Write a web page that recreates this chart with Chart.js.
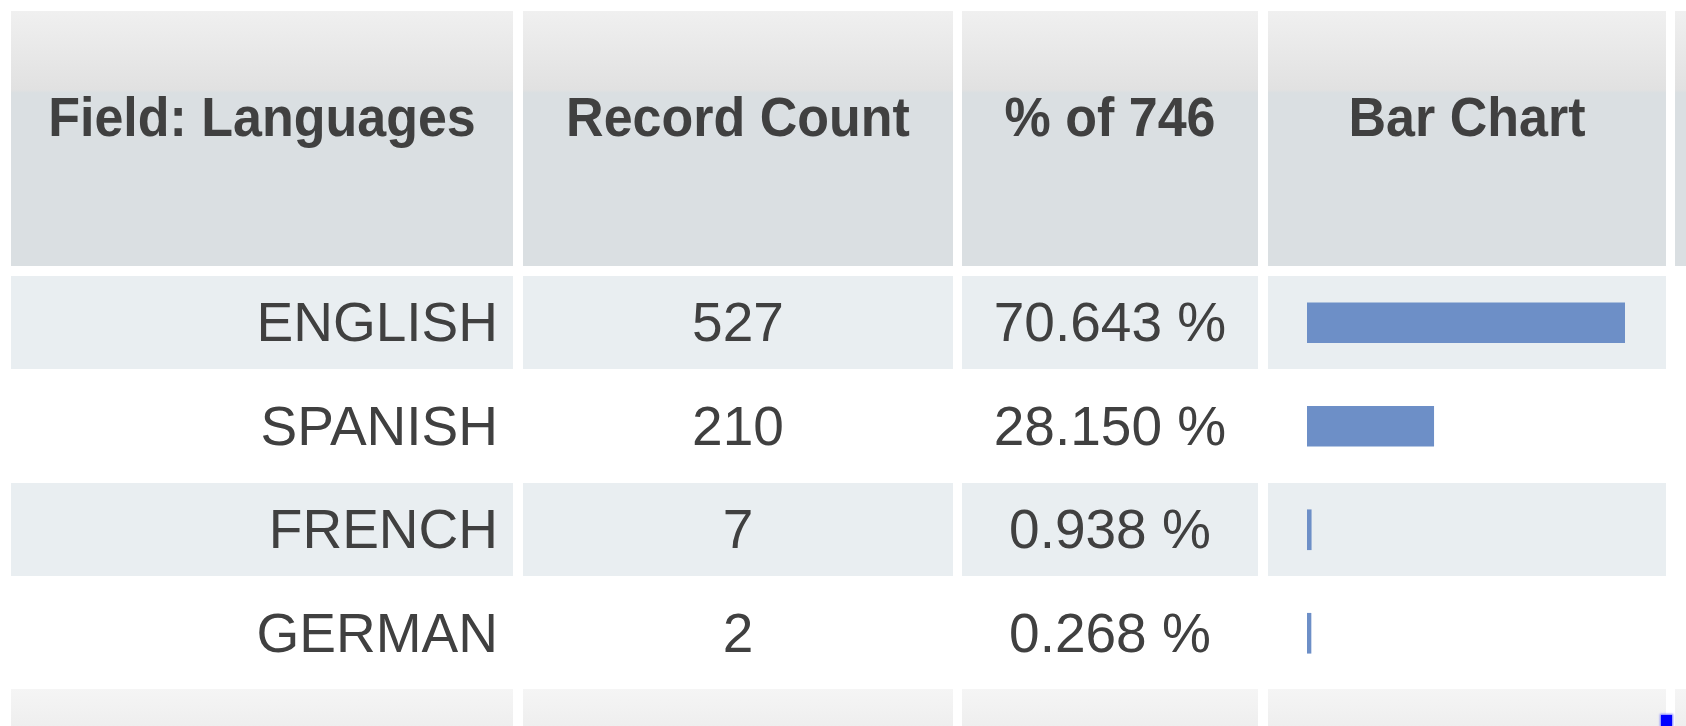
<!DOCTYPE html>
<html>
<head>
<meta charset="utf-8">
<script src="https://cdn.jsdelivr.net/npm/chart.js@4"></script>
<style>
  html, body { margin: 0; padding: 0; background: #ffffff; }
  body { width: 1686px; height: 726px; position: relative; overflow: hidden;
         font-family: "Liberation Sans", Arial, sans-serif; color: #404040; }
  .cell { position: absolute; box-sizing: border-box; white-space: nowrap; }
  .head { background: linear-gradient(#f0f0f0 0%, #e1e1e1 31%, #dadfe2 32%, #dadfe2 100%); }
  .head span { position: absolute; left: 0; right: 0; top: 80px; text-align: center;
               font-weight: bold; font-size: 52px; line-height: 52px;
               transform: scaleY(1.05); }
  .alt { background: #e9eef1; }
  .foot { background: linear-gradient(#f5f5f5, #ececec); }
  .data { font-size: 55px; }
  #barWrap { position: absolute; left: 1307px; top: 271px; width: 318px; height: 414px; }
  #dot { position: absolute; left: 1661px; top: 715px; width: 11px; height: 11px;
         background: #0000ff; box-shadow: 0 0 2px 1px #7a7aff; }
</style>
</head>
<body>
<div id="barWrap"><canvas id="bars" width="318" height="414"></canvas></div>
<div id="dot"></div>
<script>
// table content
const headers = ["Field: Languages", "Record Count", "% of 746", "Bar Chart"];
const languages = ["ENGLISH", "SPANISH", "FRENCH", "GERMAN"];
const counts = [527, 210, 7, 2];
const percents = [70.643, 28.150, 0.938, 0.268];

// layout: column spans and row spans in page pixels
const cols = [[11, 513], [523, 953], [962, 1258], [1268, 1666], [1675, 1700]];
const headRow = [11, 266];
const rows = [[276, 369], [379, 473], [483, 576], [586, 680]];
const footRow = [689, 740];

function addCell(x0, x1, y0, y1, cls) {
  const d = document.createElement("div");
  d.className = "cell " + cls;
  d.style.left = x0 + "px";
  d.style.top = y0 + "px";
  d.style.width = (x1 - x0) + "px";
  d.style.height = (y1 - y0) + "px";
  document.body.insertBefore(d, document.getElementById("barWrap"));
  return d;
}

// header row
cols.forEach((c, i) => {
  const d = addCell(c[0], c[1], headRow[0], headRow[1], "head");
  if (headers[i]) {
    const s = document.createElement("span");
    s.textContent = headers[i];
    d.appendChild(s);
  }
});

// data rows
rows.forEach((r, i) => {
  const cls = i % 2 === 0 ? "alt" : "";
  const h = r[1] - r[0];
  const c1 = addCell(cols[0][0], cols[0][1], r[0], r[1], cls + " data");
  c1.style.textAlign = "right";
  c1.style.paddingRight = "15px";
  c1.style.lineHeight = h + "px";
  c1.textContent = languages[i];

  const c2 = addCell(cols[1][0], cols[1][1], r[0], r[1], cls + " data");
  c2.style.textAlign = "center";
  c2.style.lineHeight = h + "px";
  c2.textContent = counts[i];

  const c3 = addCell(cols[2][0], cols[2][1], r[0], r[1], cls + " data");
  c3.style.textAlign = "center";
  c3.style.lineHeight = h + "px";
  c3.textContent = percents[i].toFixed(3) + " %";

  addCell(cols[3][0], cols[3][1], r[0], r[1], cls);
});

// footer row
cols.forEach(c => addCell(c[0], c[1], footRow[0], footRow[1], "foot"));

// bar column
new Chart(document.getElementById("bars").getContext("2d"), {
  type: "bar",
  data: {
    labels: languages,
    datasets: [{
      data: counts,
      backgroundColor: "#6d8fc7",
      barThickness: 40,
      minBarLength: 4,
      borderWidth: 0
    }]
  },
  options: {
    indexAxis: "y",
    responsive: false,
    animation: false,
    layout: { padding: 0 },
    plugins: { legend: { display: false }, tooltip: { enabled: false } },
    scales: {
      x: { display: false, min: 0, max: 527 },
      y: { display: false }
    }
  }
});
</script>
</body>
</html>
